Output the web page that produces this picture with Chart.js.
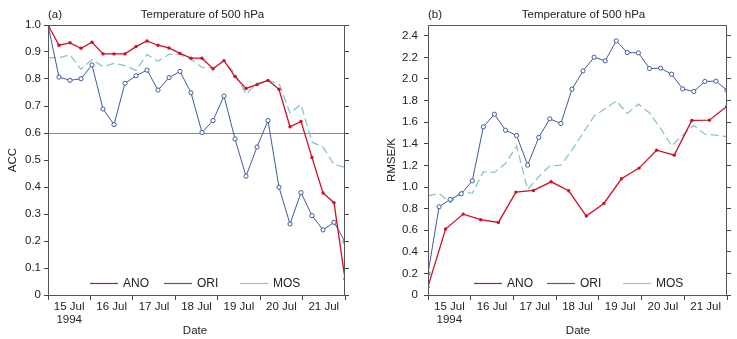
<!DOCTYPE html>
<html>
<head>
<meta charset="utf-8">
<script src="https://cdn.jsdelivr.net/npm/chart.js@4/dist/chart.umd.min.js"></script>
<style>
  html, body { margin: 0; padding: 0; background: #fff; }
  #wrap { position: relative; width: 737px; height: 339px; overflow: hidden; }
  canvas { position: absolute; top: 0; }
  #chartA { left: 0; }
  #chartB { left: 368px; }
</style>
</head>
<body>
<div id="wrap">
  <canvas id="chartA" width="368" height="339"></canvas>
  <canvas id="chartB" width="369" height="339"></canvas>
</div>
<script>
// Axis labels
const dayLabels = ['15 Jul', '16 Jul', '17 Jul', '18 Jul', '19 Jul', '20 Jul', '21 Jul'];
const yearLabel = '1994';
const seriesNames = ['ANO', 'ORI', 'MOS'];
const accTicks = [0, 0.1, 0.2, 0.3, 0.4, 0.5, 0.6, 0.7, 0.8, 0.9, 1.0];
const rmseTicks = [0, 0.2, 0.4, 0.6, 0.8, 1.0, 1.2, 1.4, 1.6, 1.8, 2.0, 2.2, 2.4];

// (a) anomaly correlation, 28 forecast steps across the 7 days
const accAno = [1.0, 0.925, 0.934, 0.914, 0.936, 0.893, 0.893, 0.893, 0.920, 0.941,
                0.925, 0.915, 0.895, 0.877, 0.877, 0.838, 0.868, 0.809, 0.765, 0.779,
                0.795, 0.762, 0.623, 0.643, 0.509, 0.378, 0.342, 0.06];
const accOri = [1.0, 0.807, 0.795, 0.801, 0.852, 0.689, 0.631, 0.784, 0.812, 0.833,
                0.759, 0.805, 0.828, 0.749, 0.602, 0.646, 0.737, 0.578, 0.440, 0.548,
                0.646, 0.399, 0.263, 0.379, 0.294, 0.241, 0.269, 0.198];
const accMos = [0.879, 0.878, 0.890, 0.836, 0.872, 0.846, 0.858, 0.850, 0.832, 0.891,
                0.866, 0.891, 0.891, 0.873, 0.843, 0.840, 0.868, 0.820, 0.744, 0.784,
                0.793, 0.784, 0.674, 0.706, 0.566, 0.548, 0.483, 0.473];

// (b) RMSE in K; ANO has 18 samples, ORI and MOS 28
const rmseAno = [0.077, 0.611, 0.749, 0.697, 0.672, 0.953, 0.968, 1.048, 0.965,
                 0.731, 0.848, 1.076, 1.175, 1.341, 1.295, 1.616, 1.619, 1.748];
const rmseOri = [0.20, 0.817, 0.885, 0.937, 1.057, 1.557, 1.674, 1.526, 1.477, 1.203,
                 1.459, 1.631, 1.588, 1.906, 2.075, 2.202, 2.168, 2.353, 2.245, 2.242,
                 2.097, 2.100, 2.044, 1.908, 1.884, 1.977, 1.980, 1.896];
const rmseMos = [0.919, 0.941, 0.854, 0.956, 0.941, 1.141, 1.135, 1.218, 1.378, 0.978,
                 1.094, 1.196, 1.203, 1.341, 1.500, 1.656, 1.727, 1.797, 1.681, 1.767,
                 1.686, 1.542, 1.381, 1.480, 1.570, 1.489, 1.480, 1.465];

const SPAN_DAYS = 7;
const COLORS = { ANO: '#cf1027', ORI: '#3f5b9f', MOS: '#88c6cc' };
const FONT = '"Liberation Sans", Arial, Helvetica, sans-serif';

Chart.defaults.font.family = FONT;
Chart.defaults.font.size = 11.5;
Chart.defaults.color = '#222';

// place samples evenly over the 7-day span
function toPoints(values) {
  const step = SPAN_DAYS / (values.length - 1);
  return values.map((v, i) => ({ x: i * step, y: v }));
}

function makeDatasets(ano, ori, mos) {
  return [
    { label: seriesNames[0], data: toPoints(ano), borderColor: COLORS.ANO, backgroundColor: COLORS.ANO,
      borderWidth: 1.3, pointRadius: 1.7, pointBorderWidth: 0, pointBackgroundColor: COLORS.ANO, order: 1 },
    { label: seriesNames[1], data: toPoints(ori), borderColor: COLORS.ORI, backgroundColor: '#fff',
      borderWidth: 1, pointRadius: 2.1, pointBorderWidth: 1, pointBackgroundColor: '#fff',
      pointBorderColor: COLORS.ORI, order: 2 },
    { label: seriesNames[2], data: toPoints(mos), borderColor: COLORS.MOS, backgroundColor: COLORS.MOS,
      borderWidth: 1.3, borderDash: [8, 4], pointRadius: 0, order: 3 }
  ];
}

// frame, reference line, titles and in-plot legend
const decorPlugin = {
  id: 'decor',
  beforeDatasetsDraw(chart, args, o) {
    if (o.refLine == null) return;
    const { ctx, chartArea: a } = chart;
    const y = Math.round(chart.scales.y.getPixelForValue(o.refLine)) + 0.5;
    ctx.save();
    ctx.strokeStyle = '#8c8c8c';
    ctx.lineWidth = 1;
    ctx.beginPath();
    ctx.moveTo(a.left, y);
    ctx.lineTo(a.right, y);
    ctx.stroke();
    ctx.restore();
  },
  afterDraw(chart, args, o) {
    const { ctx, chartArea: a } = chart;
    ctx.save();
    // plot box
    ctx.strokeStyle = '#555';
    ctx.lineWidth = 1;
    ctx.strokeRect(a.left + 0.5, a.top + 0.5, a.right - a.left - 1, a.bottom - a.top);

    ctx.fillStyle = '#222';
    ctx.font = '11.5px ' + FONT;
    ctx.textBaseline = 'middle';
    // panel tag and title
    ctx.textAlign = 'left';
    ctx.fillText(o.tag, a.left, 15);
    ctx.textAlign = 'center';
    ctx.fillText(o.title, o.titleX, 15);
    // x title
    ctx.fillText(o.xTitle, o.xTitleX, 331);
    // y title
    ctx.save();
    ctx.translate(o.yTitleX, 160);
    ctx.rotate(-Math.PI / 2);
    ctx.fillText(o.yTitle, 0, 0);
    ctx.restore();

    // legend
    const ly = 283.5;
    chart.data.datasets.forEach((ds, i) => {
      const x0 = a.left + o.legendStart + o.legendStep[i];
      ctx.save();
      ctx.strokeStyle = ds.borderColor;
      ctx.lineWidth = 1.2;
      ctx.beginPath();
      ctx.moveTo(x0, ly);
      ctx.lineTo(x0 + 28, ly);
      ctx.stroke();
      ctx.restore();
      ctx.textAlign = 'left';
      ctx.font = '12px ' + FONT;
      ctx.fillText(ds.label, x0 + 33, ly);
    });
    ctx.restore();
  }
};

function makeChart(canvasId, datasets, cfg) {
  const yTickCallback = (v) => (v === 0 ? '0' : Number(v).toFixed(1));
  const setTicks = (list) => (scale) => { scale.ticks = list.map((v) => ({ value: v })); };
  return new Chart(document.getElementById(canvasId), {
    type: 'line',
    data: { datasets },
    plugins: [decorPlugin],
    options: {
      responsive: false,
      animation: false,
      devicePixelRatio: 1,
      layout: { padding: { top: 25, left: 0, right: 0, bottom: 0 } },
      plugins: {
        legend: { display: false },
        tooltip: { enabled: false },
        decor: cfg.decor
      },
      scales: {
        x: {
          type: 'linear',
          min: 0,
          max: SPAN_DAYS,
          afterBuildTicks: (scale) => {
            const t = [];
            for (let k = 0; k <= SPAN_DAYS * 2; k++) t.push({ value: k / 2 });
            scale.ticks = t;
          },
          afterFit: (scale) => { scale.height = 44; },
          border: { display: false },
          grid: {
            drawOnChartArea: false,
            drawTicks: true,
            tickLength: 5,
            tickColor: (c) => (c.tick && Number.isInteger(c.tick.value)) ? '#444' : 'rgba(0,0,0,0)'
          },
          ticks: {
            autoSkip: false,
            maxRotation: 0,
            minRotation: 0,
            padding: 0,
            font: { size: 11.5, lineHeight: 1.13 },
            callback: (v) => {
              const k = Math.round(v * 2);
              if (k % 2 === 0) return '';
              const d = (k - 1) / 2;
              return d === 0 ? [dayLabels[0], yearLabel] : dayLabels[d];
            }
          }
        },
        y: {
          position: 'left',
          min: 0,
          max: cfg.yMax,
          afterBuildTicks: setTicks(cfg.yTicks),
          afterFit: (scale) => { scale.width = cfg.leftWidth; },
          border: { display: false },
          grid: { drawOnChartArea: false, tickLength: 4, tickColor: '#444' },
          ticks: { padding: cfg.yPad, callback: yTickCallback }
        },
        y2: {
          position: 'right',
          min: 0,
          max: cfg.yMax,
          afterBuildTicks: setTicks(cfg.yTicks),
          afterFit: (scale) => { scale.width = cfg.rightWidth; },
          border: { display: false },
          grid: { drawOnChartArea: false, tickLength: 4, tickColor: '#444' },
          ticks: { display: false }
        }
      }
    }
  });
}

makeChart('chartA', makeDatasets(accAno, accOri, accMos), {
  yMax: 1.0,
  yTicks: accTicks,
  leftWidth: 48,
  rightWidth: 23,
  yPad: 3,
  decor: {
    refLine: 0.6,
    tag: '(a)',
    title: 'Temperature of 500 hPa',
    titleX: 202.5,
    xTitle: 'Date',
    xTitleX: 195,
    yTitle: 'ACC',
    yTitleX: 12.5,
    legendStart: 42,
    legendStep: [0, 74, 150]
  }
});

makeChart('chartB', makeDatasets(rmseAno, rmseOri, rmseMos), {
  yMax: 2.5,
  yTicks: rmseTicks,
  leftWidth: 60,
  rightWidth: 10,
  yPad: 6,
  decor: {
    refLine: null,
    tag: '(b)',
    title: 'Temperature of 500 hPa',
    titleX: 215.5,
    xTitle: 'Date',
    xTitleX: 210,
    yTitle: 'RMSE/K',
    yTitleX: 24,
    legendStart: 46,
    legendStep: [0, 73, 149]
  }
});
</script>
</body>
</html>
